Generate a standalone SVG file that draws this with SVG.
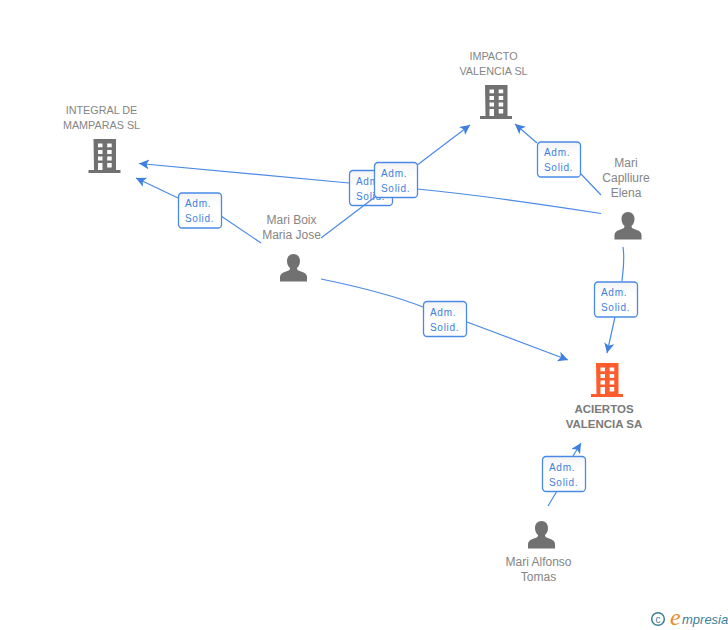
<svg xmlns="http://www.w3.org/2000/svg" width="728" height="630" viewBox="0 0 728 630">
<style>
text{font-family:"Liberation Sans",Arial,sans-serif}
.n{font-size:12px;fill:#858585;text-anchor:middle}
.t{font-size:10.800px;fill:#858585;text-anchor:middle}
.b{font-size:11.500px;fill:#7a7a7a;font-weight:bold;text-anchor:middle}
.l{fill:none;stroke:#4a8ae6;stroke-width:1.200}
.box{fill:#fff;stroke:#4a8ae6;stroke-width:1.300}
.a{font-size:10px;fill:#3d7fe0;letter-spacing:.7px}
</style>
<defs>
<marker id="ar" markerUnits="userSpaceOnUse" markerWidth="14" markerHeight="12" refX="10" refY="5" orient="auto"><path d="M0 0L10 5L0 10L2.500 5Z" fill="#3d80e2"/></marker>
<linearGradient id="g" x1="0" y1="0" x2="0" y2="1"><stop offset="0" stop-color="#f4f4f4"/><stop offset=".4" stop-color="#fff"/></linearGradient>
<g id="bw"><path fill="#fff" d="M4.500 4.500h4.500v3.800h-4.500zM13.700 4.500h4.500v3.800h-4.500zM4.500 11h4.500v4h-4.500zM13.700 11h4.500v4h-4.500zM4.500 17.500h4.500v4h-4.500zM13.700 17.500h4.500v4h-4.500zM4.500 24h4.500v7h-4.500zM13.700 24h4.500v4.500h-4.500z"/></g>
<g id="bldg"><path d="M0 0h22.500v31h4.500v3h-32v-3h5.500z"/><use href="#bw"/></g>
<path id="psn" d="M13.500 0c4 0 6.500 3 6.500 7 0 3-1.200 5.500-3 7 0 2 1 2.500 4 3.500 4 1.300 6 3 6 5.500v4.500h-27v-4.500c0-2.500 2-4.200 6-5.500 3-1 4-1.500 4-3.500-1.800-1.500-3-4-3-7 0-4 2.500-7 6.500-7z" fill="#717171"/>
<g id="lb"><rect class="box" x=".5" y=".5" width="43" height="35" rx="3.500" style="fill:url(#g)"/><text class="a" x="7" y="14.500">Adm.</text><text class="a" x="7" y="29.500">Solid.</text></g>
</defs>
<g id="connectors">
<path class="l" d="M601 195L581 174M537 143L515 124" marker-end="url(#ar)"/>
<use href="#lb" x="537" y="141.500"/>
<path class="l" d="M601 213.500C520 201 460 193 417 189M349 183L139 163.500" marker-end="url(#ar)"/>
<use href="#lb" x="349" y="170"/>
<path class="l" d="M321 238L470 125" marker-end="url(#ar)"/>
<use href="#lb" x="374" y="162"/>
<path class="l" d="M261 243L221 216M178 198L136 178" marker-end="url(#ar)"/>
<use href="#lb" x="178" y="192.500"/>
<path class="l" d="M321 279C360 287 395 296 423 307M467 322L568 360" marker-end="url(#ar)"/>
<use href="#lb" x="423" y="301"/>
<path class="l" d="M623 247C625 260 623 270 622 281M615 317L607 353" marker-end="url(#ar)"/>
<use href="#lb" x="594" y="281.500"/>
<path class="l" d="M548 506L557 491M573 456L581 443" marker-end="url(#ar)"/>
<use href="#lb" x="542" y="456"/>
</g>
<g id="n-impacto"><text class="t" x="493.500" y="60">IMPACTO</text><text class="t" x="493.500" y="75">VALENCIA SL</text><use href="#bldg" x="485" y="85" fill="#717171"/></g>
<g id="n-integral"><text class="t" x="101.500" y="114">INTEGRAL DE</text><text class="t" x="101.500" y="129">MAMPARAS SL</text><use href="#bldg" x="93.500" y="139" fill="#717171"/></g>
<g id="n-acierto"><use href="#bldg" x="596" y="363" fill="#ff5c2e"/><text class="b" x="604" y="413">ACIERTOS</text><text class="b" x="604" y="428">VALENCIA SA</text></g>
<g id="n-capilliure"><text class="n" x="626" y="167">Mari</text><text class="n" x="626" y="182">Caplliure</text><text class="n" x="626" y="197">Elena</text><use href="#psn" x="614.500" y="212"/></g>
<g id="n-boix"><text class="n" x="291.500" y="224">Mari Boix</text><text class="n" x="291.500" y="239">Maria Jose</text><use href="#psn" x="280" y="254"/></g>
<g id="n-alfonso"><text class="n" x="538.500" y="566">Mari Alfonso</text><text class="n" x="538.500" y="581">Tomas</text><use href="#psn" x="528" y="521"/></g>
<g id="logo"><circle cx="658" cy="619" r="6.300" fill="none" stroke="#3d7f96" stroke-width="1.500"/><text x="658" y="622.500" font-size="10" fill="#3d7f96" text-anchor="middle">c</text><text x="670" y="625" font-size="24" font-style="italic" fill="#f08a1d" style="font-family:'Liberation Serif',serif">e</text><text x="682" y="624" font-size="13" font-style="italic" fill="#3d7f96">mpresia</text></g>
</svg>
